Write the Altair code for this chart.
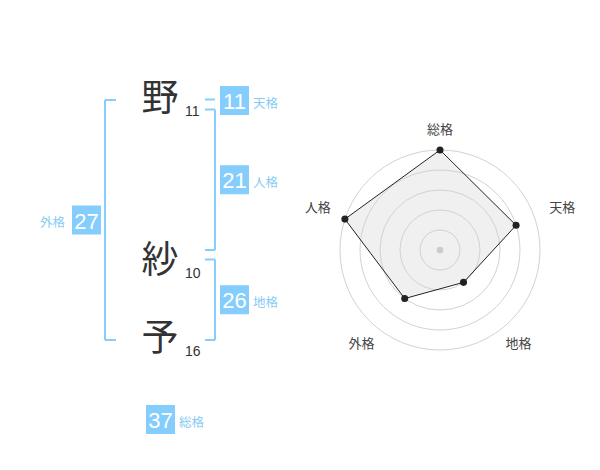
import altair as alt
import pandas as pd
import numpy as np

# ---- data ----
chars = ["野", "紗", "予"]
strokes = [11, 10, 16]
kaku_names = ["天格", "人格", "地格", "外格", "総格"]
kaku_values = [11, 21, 26, 27, 37]
radar_labels = ["総格", "天格", "地格", "外格", "人格"]
radar_scores = [5, 4, 2, 3, 5]
radar_max = 5

# ---- layout (page pixel coordinates) ----
W, H = 584, 454
BLUE = "#84cdfc"
LBLUE = "#86cbf5"
DARK = "#333333"
row_y = [100, 262, 340]
char_x = 160
stroke_x = 185
br_in, br_out = 205, 215
box_cx_right, box_cx_left = 234.5, 86.5
box_half = 14.5
cx, cy, unit = 440, 250, 20

xs = alt.Scale(domain=[8, 8 + W], nice=False, zero=False)
ys = alt.Scale(domain=[8, 8 + H], nice=False, zero=False, reverse=True)
X = lambda f="x": alt.X(f"{f}:Q", scale=xs, axis=None)
Y = lambda f="y": alt.Y(f"{f}:Q", scale=ys, axis=None)

# characters
df_chars = pd.DataFrame({"t": chars, "x": char_x, "y": row_y})
df_strokes = pd.DataFrame({"t": [str(s) for s in strokes], "x": stroke_x,
                           "y": [r + 12 for r in row_y]})

# brackets
segs = []
def bracket(y1, y2, xa, xb):
    segs.append((xa, y1, xb, y1))
    segs.append((xa, y2, xb, y2))
    segs.append((xb, y1, xb, y2))
ten = (row_y[0] - 0.5, row_y[0] - 0.5)
jin = (row_y[0] + 9.5, row_y[1] - 12)
chi = (row_y[1] - 2.5, row_y[2])
gai = (row_y[0], row_y[2])
segs.append((br_in, ten[0], br_out, ten[0]))
bracket(jin[0], jin[1], br_in, br_out)
bracket(chi[0], chi[1], br_in, br_out)
bracket(gai[0], gai[1], 116, 105)
df_segs = pd.DataFrame(segs, columns=["x", "y", "x2", "y2"])

box_centers = [
    (box_cx_right, ten[0] + 1),
    (box_cx_right, (jin[0] + jin[1]) / 2),
    (box_cx_right, (chi[0] + chi[1]) / 2),
    (box_cx_left, (gai[0] + gai[1]) / 2),
    (char_x + 0.5, 419.5),
]
df_box = pd.DataFrame({
    "name": kaku_names, "v": [str(v) for v in kaku_values],
    "x": [c[0] - box_half for c in box_centers], "x2": [c[0] + box_half for c in box_centers],
    "y": [c[1] - box_half for c in box_centers], "y2": [c[1] + box_half for c in box_centers],
    "cx": [c[0] for c in box_centers], "cy": [c[1] + 1.5 for c in box_centers],
})
df_box["lx"] = np.where(df_box["name"] == "外格", df_box["x"] - 7, df_box["x2"] + 4)
df_box["ly"] = df_box["cy"] + 1.5
df_lab_r = df_box[df_box["name"] != "外格"]
df_lab_l = df_box[df_box["name"] == "外格"]

# radar
ang = np.deg2rad(np.arange(len(radar_labels)) * 360 / len(radar_labels))
df_radar = pd.DataFrame({
    "label": radar_labels, "score": radar_scores, "order": range(len(radar_labels)),
    "x": cx + np.array(radar_scores) * unit * np.sin(ang),
    "y": cy - np.array(radar_scores) * unit * np.cos(ang),
    "lx": cx + 120 * np.sin(ang) + 8 * np.sign(np.round(np.sin(ang), 3)),
    "ly": cy - 120 * np.cos(ang) - 5 * np.abs(np.sin(ang)),
})
df_rings = pd.DataFrame({"r": list(range(1, radar_max + 1))})
df_rings["x"] = cx
df_rings["y"] = cy
df_rings["s"] = (2 * df_rings["r"] * unit) ** 2
df_center = pd.DataFrame({"x": [cx], "y": [cy]})

cjk = "Noto Sans CJK JP"
num = "Liberation Sans"

rings = alt.Chart(df_rings).mark_point(shape="circle", filled=False, stroke="#d2d2d2",
                                       strokeWidth=1, opacity=1).encode(
    x=X(), y=Y(), size=alt.Size("s:Q", scale=None))
poly_fill = alt.Chart(df_radar).mark_line(interpolate="linear-closed", fill="#f0f0f0",
                                          stroke="#f0f0f0", strokeWidth=0).encode(
    x=X(), y=Y(), order="order:Q")
poly_line = alt.Chart(df_radar).mark_line(interpolate="linear-closed", color="#222222",
                                          strokeWidth=1).encode(
    x=X(), y=Y(), order="order:Q")
center = alt.Chart(df_center).mark_point(filled=True, color="#cccccc", size=45,
                                         opacity=1).encode(x=X(), y=Y())
pts = alt.Chart(df_radar).mark_point(filled=True, color="#222222", size=50,
                                     opacity=1).encode(x=X(), y=Y())
rlabels = alt.Chart(df_radar).mark_text(font=cjk, fontSize=13, color="#444444",
                                        baseline="middle").encode(
    x=X("lx"), y=Y("ly"), text="label:N")

rules = alt.Chart(df_segs).mark_rule(color=BLUE, strokeWidth=2).encode(
    x=X(), y=Y(), x2="x2:Q", y2="y2:Q")
boxes = alt.Chart(df_box).mark_rect(color=BLUE).encode(
    x=X(), y=Y(), x2="x2:Q", y2="y2:Q")
box_txt = alt.Chart(df_box).mark_text(font=num, fontSize=22, color="white",
                                      baseline="middle").encode(
    x=X("cx"), y=Y("cy"), text="v:N")
lab_r = alt.Chart(df_lab_r).mark_text(font=cjk, fontSize=12.5, color=LBLUE, align="left",
                                      baseline="middle").encode(
    x=X("lx"), y=Y("ly"), text="name:N")
lab_l = alt.Chart(df_lab_l).mark_text(font=cjk, fontSize=12.5, color=LBLUE, align="right",
                                      baseline="middle").encode(
    x=X("lx"), y=Y("ly"), text="name:N")
kanji = alt.Chart(df_chars).mark_text(font=cjk, fontSize=37, color=DARK,
                                      baseline="middle").encode(
    x=X(), y=Y(), text="t:N")
stroke_txt = alt.Chart(df_strokes).mark_text(font=num, fontSize=14, color=DARK, align="left",
                                             baseline="middle").encode(
    x=X(), y=Y(), text="t:N")

chart = alt.layer(
    poly_fill, rings, poly_line, center, pts, rlabels,
    rules, boxes, box_txt, lab_r, lab_l, kanji, stroke_txt
).properties(
    width=W, height=H, autosize=alt.AutoSizeParams(type="none"), padding=0,
    background="white"
).configure_view(stroke=None)

chart.save("out.html", embed_options={"renderer": "svg", "actions": False})
